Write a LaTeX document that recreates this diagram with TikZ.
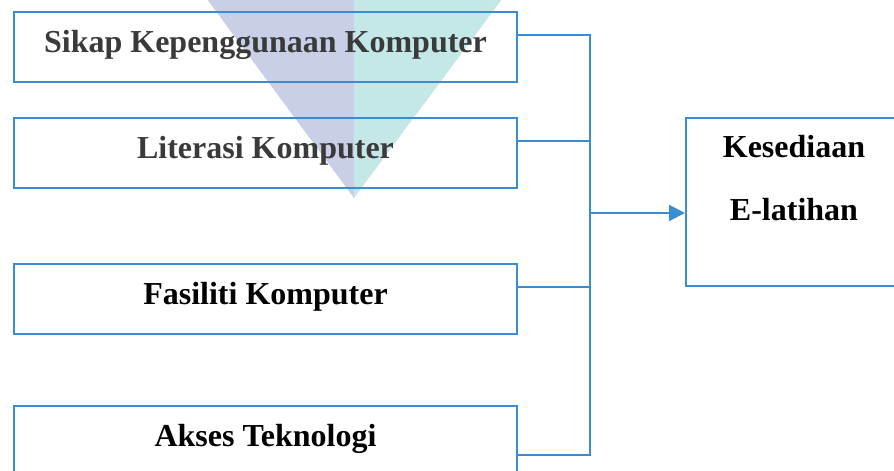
\documentclass[tikz,border=0pt]{standalone}
\usepackage{fontspec}
\setmainfont{Liberation Serif}
\usetikzlibrary{arrows.meta,positioning,calc}
\definecolor{linkblue}{HTML}{3A8DD2}
\definecolor{wmlilac}{HTML}{C9CFE6}
\definecolor{wmteal}{HTML}{C4E8E8}
\definecolor{textgrey}{HTML}{3A3A3A}

\begin{document}
\begin{tikzpicture}[x=1pt, y=-1pt,
  factor/.style={draw=linkblue, line width=2pt, minimum width=503pt, minimum height=70pt,
    inner sep=0pt, font=\fontsize{32}{38}\selectfont\bfseries, text height=22pt, text depth=11pt},
  link/.style={linkblue, line width=2pt}]
\useasboundingbox (0,0) rectangle (894,471);
\clip (0,0) rectangle (894,471);
% Watermark (two-tone triangle)
\fill[wmlilac] (204,-5) -- (354,-5) -- (354,198) -- cycle;
\fill[wmteal] (354,-5) -- (505,-5) -- (354,198) -- cycle;
% Factors
\node[factor, text=textgrey] (sikap) at (265.5,47) {Sikap Kepenggunaan Komputer};
\node[factor, text=textgrey] (literasi) at (265.5,153) {Literasi Komputer};
\node[factor] (fasiliti) at (265.5,298.5) {Fasiliti Komputer};
\node[factor] (akses) at (265.5,441) {Akses Teknologi};
% Outcome
\node[draw=linkblue, line width=2pt, minimum width=216pt, minimum height=168pt] (kesediaan) at (794,202) {};
\node[font=\fontsize{32}{38}\selectfont\bfseries, align=center, anchor=north, inner sep=0pt]
  (kesLbl) at ([yshift=-18pt]kesediaan.north) {Kesediaan\\[25pt]E-latihan};
% Connectors
\coordinate (joint) at (590,213);
\draw[link] ([yshift=12pt]sikap.east) -| (joint);
\draw[link] ([yshift=12pt]literasi.east) -| (joint);
\draw[link] ([yshift=11.5pt]fasiliti.east) -| (joint);
\draw[link] ([yshift=-14pt]akses.east) -| (joint);
\draw[link, -{Triangle[length=16pt,width=16pt]}] (joint) -- (joint -| kesediaan.west);
\end{tikzpicture}
\end{document}
